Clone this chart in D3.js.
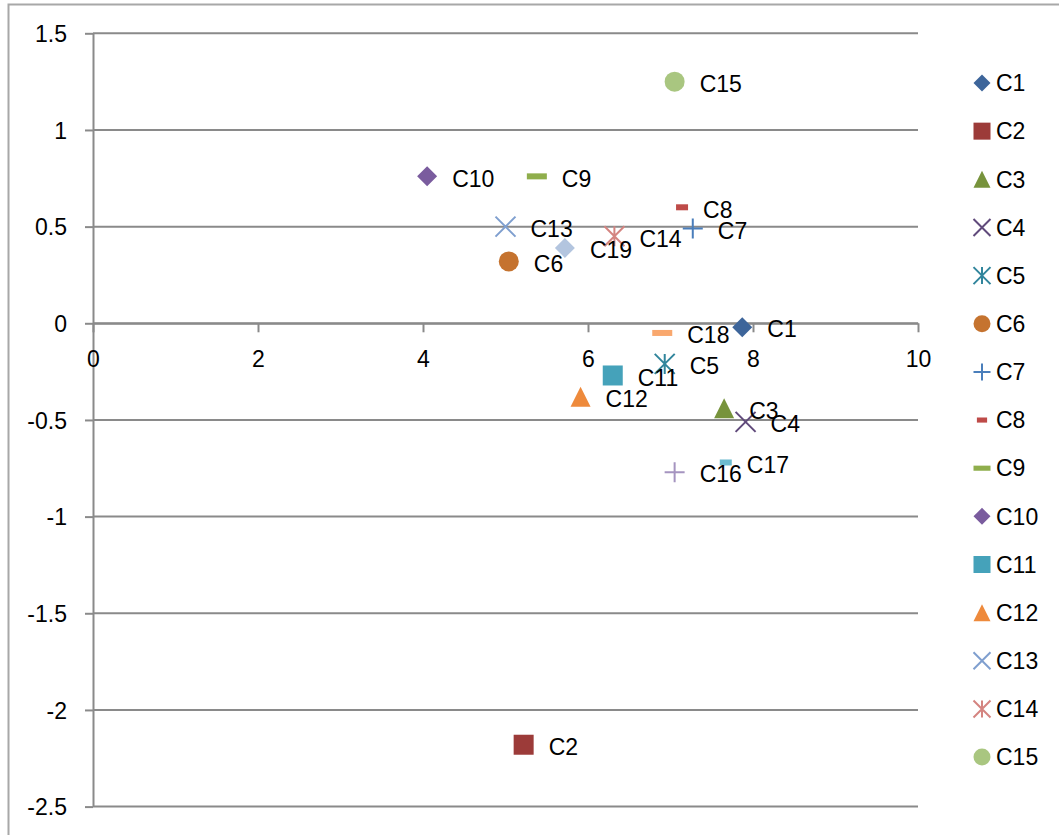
<!DOCTYPE html>
<html>
<head>
<meta charset="utf-8">
<script src="https://cdn.jsdelivr.net/npm/d3@7"></script>
<style>
  html, body { margin: 0; padding: 0; background: #ffffff; }
  svg { display: block; }
  text { font-family: "Liberation Sans", Arial, sans-serif; fill: #000; }
</style>
</head>
<body>
<svg id="chart" width="1059" height="835"></svg>
<script>
// Series names and their (x, y) values
const names = ["C1","C2","C3","C4","C5","C6","C7","C8","C9","C10",
               "C11","C12","C13","C14","C15","C16","C17","C18","C19"];
const xValues = [7.87, 5.22, 7.65, 7.91, 6.93, 5.04, 7.27, 7.14, 5.38, 4.05,
                 6.30, 5.91, 5.00, 6.32, 7.05, 7.05, 7.67, 6.90, 5.72];
const yValues = [-0.02, -2.18, -0.44, -0.51, -0.21, 0.32, 0.49, 0.60, 0.76, 0.76,
                 -0.27, -0.38, 0.50, 0.45, 1.25, -0.77, -0.72, -0.05, 0.39];

// Axis ticks
const xTicks = [0, 2, 4, 6, 8, 10];
const yTicks = [1.5, 1, 0.5, 0, -0.5, -1, -1.5, -2, -2.5];

// Number of entries shown in the legend
const legendCount = 15;

// Marker styling (cycled per series)
const markerShapes = ["diamond","square","triangle","x","star","circle","plus","shortDash","longDash"];
const colors = ["#3D659A","#9C3B39","#77933C","#604A7B","#31859C","#C5732F","#4A7EBB","#BE4B48","#8FAE4C",
                "#7A5C9E","#45A2BA","#EE8A3C","#7F9FCF","#D48480","#A9C680","#A594C0","#6DBBD0","#F9A86E","#B3C5DF"];

const svg = d3.select("#chart");
const gridColor = "#8A8A8A";

const x = d3.scaleLinear().domain([0, 10]).range([93, 918]);
const y = d3.scaleLinear().domain([-2.5, 1.5]).range([806.6, 33.3]);

// Outer chart frame
svg.append("rect")
  .attr("x", 8.5).attr("y", 4.5)
  .attr("width", 1100).attr("height", 900)
  .attr("fill", "#fff")
  .attr("stroke", "#A8A8A8").attr("stroke-width", 2);

// Horizontal gridlines
svg.append("g").selectAll("line").data(yTicks).join("line")
  .attr("x1", x(0)).attr("x2", x(10))
  .attr("y1", d => y(d)).attr("y2", d => y(d))
  .attr("stroke", gridColor).attr("stroke-width", 2);

// Y axis (ticks on the left)
const yAxis = d3.axisLeft(y).tickValues(yTicks).tickSize(8).tickSizeOuter(0)
  .tickFormat(d => String(d));
const yg = svg.append("g").attr("transform", `translate(${x(0)},0)`).call(yAxis);
yg.select(".domain").attr("stroke", gridColor).attr("stroke-width", 2);
yg.selectAll(".tick line").attr("stroke", gridColor).attr("stroke-width", 2);
yg.selectAll(".tick text")
  .attr("x", -26).attr("dy", "0.36em")
  .style("font-family", "'Liberation Sans', Arial, sans-serif")
  .style("font-size", "23px").attr("fill", "#000");

// X axis drawn along y = 0, labels placed below
const xAxis = d3.axisBottom(x).tickValues(xTicks).tickSize(9).tickSizeOuter(0)
  .tickFormat(d => String(d));
const xg = svg.append("g").attr("transform", `translate(0,${y(0)})`).call(xAxis);
xg.select(".domain").attr("stroke", gridColor).attr("stroke-width", 2);
xg.selectAll(".tick line").attr("stroke", gridColor).attr("stroke-width", 2);
xg.selectAll(".tick text")
  .attr("y", 44).attr("dy", 0)
  .style("font-family", "'Liberation Sans', Arial, sans-serif")
  .style("font-size", "23px").attr("fill", "#000");

// Marker drawing
function halfWidth(shape, s) {
  return shape === "shortDash" ? 6 * s : 10 * s;
}
function drawMarker(g, shape, color, s) {
  const r = 10 * s;
  switch (shape) {
    case "diamond":
      g.append("path").attr("d", `M0,${-r}L${r},0L0,${r}L${-r},0Z`).attr("fill", color);
      break;
    case "square":
      g.append("rect").attr("x", -r).attr("y", -r).attr("width", 2 * r).attr("height", 2 * r)
        .attr("fill", color);
      break;
    case "triangle":
      g.append("path").attr("d", `M0,${-r}L${r},${r}L${-r},${r}Z`).attr("fill", color);
      break;
    case "circle":
      g.append("circle").attr("r", r).attr("fill", color);
      break;
    case "x":
      g.append("path").attr("d", `M${-r},${-r}L${r},${r}M${-r},${r}L${r},${-r}`)
        .attr("stroke", color).attr("stroke-width", 2).attr("fill", "none");
      break;
    case "star":
      g.append("path").attr("d", `M${-r},${-r}L${r},${r}M${-r},${r}L${r},${-r}M0,${-r}L0,${r}`)
        .attr("stroke", color).attr("stroke-width", 2).attr("fill", "none");
      break;
    case "plus":
      g.append("path").attr("d", `M${-r},0L${r},0M0,${-r}L0,${r}`)
        .attr("stroke", color).attr("stroke-width", 2).attr("fill", "none");
      break;
    case "shortDash":
      g.append("rect").attr("x", -6 * s).attr("y", -3 * s).attr("width", 12 * s).attr("height", 6 * s)
        .attr("fill", color);
      break;
    case "longDash":
      g.append("rect").attr("x", -r).attr("y", -3 * s).attr("width", 2 * r).attr("height", 6 * s)
        .attr("fill", color);
      break;
  }
}

// Points with data labels
const points = names.map((n, i) => ({
  name: n, x: xValues[i], y: yValues[i],
  shape: markerShapes[i % markerShapes.length], color: colors[i]
}));

const pg = svg.append("g");
points.forEach(p => {
  const g = pg.append("g").attr("transform", `translate(${x(p.x)},${y(p.y)})`);
  drawMarker(g, p.shape, p.color, 1);
});
points.forEach(p => {
  pg.append("text")
    .attr("x", x(p.x) + halfWidth(p.shape, 1) + 15)
    .attr("y", y(p.y) + 2)
    .attr("dy", "0.36em")
    .style("font-size", "23px")
    .text(p.name);
});

// Legend
const lg = svg.append("g");
points.slice(0, legendCount).forEach((p, i) => {
  const cy = 83 + i * 48.15;
  const g = lg.append("g").attr("transform", `translate(982,${cy})`);
  drawMarker(g, p.shape, p.color, 0.85);
  lg.append("text").attr("x", 996).attr("y", cy).attr("dy", "0.36em")
    .style("font-size", "23px").text(p.name);
});
</script>
</body>
</html>
